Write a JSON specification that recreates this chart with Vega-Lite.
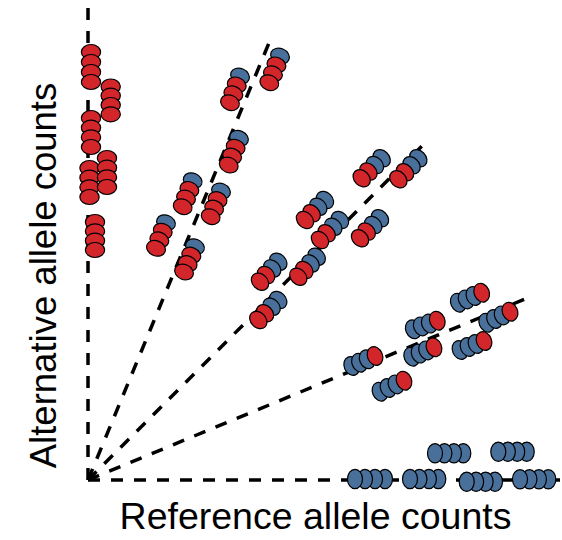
{
  "$schema": "https://vega.github.io/schema/vega-lite/v6.json",
  "width": 472,
  "height": 472,
  "autosize": {"type": "none"},
  "padding": {"left": 88, "top": 8, "right": 2, "bottom": 60},
  "background": "white",
  "config": {"view": {"stroke": null}, "font": "Liberation Sans"},
  "datasets": {
    "lines": [
      {"dosage": 4, "x0": 0, "y0": 0, "x1": 0, "y1": 47.2},
      {"dosage": 3, "x0": 0, "y0": 0, "x1": 18.06, "y1": 43.61},
      {"dosage": 2, "x0": 0, "y0": 0, "x1": 33.38, "y1": 33.38},
      {"dosage": 1, "x0": 0, "y0": 0, "x1": 43.61, "y1": 18.06},
      {"dosage": 0, "x0": 0, "y0": 0, "x1": 47.2, "y1": 0}
    ],
    "alleles": [
      {"ind": "A", "dosage": 4, "allele": "alt", "ref_count": 0.3, "alt_count": 42.8},
      {"ind": "A", "dosage": 4, "allele": "alt", "ref_count": 0.3, "alt_count": 41.8},
      {"ind": "A", "dosage": 4, "allele": "alt", "ref_count": 0.3, "alt_count": 40.8},
      {"ind": "A", "dosage": 4, "allele": "alt", "ref_count": 0.3, "alt_count": 39.8},
      {"ind": "B", "dosage": 4, "allele": "alt", "ref_count": 2.27, "alt_count": 39.35},
      {"ind": "B", "dosage": 4, "allele": "alt", "ref_count": 2.27, "alt_count": 38.43},
      {"ind": "B", "dosage": 4, "allele": "alt", "ref_count": 2.27, "alt_count": 37.5},
      {"ind": "B", "dosage": 4, "allele": "alt", "ref_count": 2.27, "alt_count": 36.57},
      {"ind": "C", "dosage": 4, "allele": "alt", "ref_count": 0.3, "alt_count": 36.2},
      {"ind": "C", "dosage": 4, "allele": "alt", "ref_count": 0.3, "alt_count": 35.23},
      {"ind": "C", "dosage": 4, "allele": "alt", "ref_count": 0.3, "alt_count": 34.27},
      {"ind": "C", "dosage": 4, "allele": "alt", "ref_count": 0.3, "alt_count": 33.3},
      {"ind": "E", "dosage": 4, "allele": "alt", "ref_count": 0.15, "alt_count": 31.2},
      {"ind": "E", "dosage": 4, "allele": "alt", "ref_count": 0.15, "alt_count": 30.23},
      {"ind": "E", "dosage": 4, "allele": "alt", "ref_count": 0.15, "alt_count": 29.27},
      {"ind": "E", "dosage": 4, "allele": "alt", "ref_count": 0.15, "alt_count": 28.3},
      {"ind": "D", "dosage": 4, "allele": "alt", "ref_count": 1.9, "alt_count": 32.2},
      {"ind": "D", "dosage": 4, "allele": "alt", "ref_count": 1.9, "alt_count": 31.23},
      {"ind": "D", "dosage": 4, "allele": "alt", "ref_count": 1.9, "alt_count": 30.27},
      {"ind": "D", "dosage": 4, "allele": "alt", "ref_count": 1.9, "alt_count": 29.3},
      {"ind": "F", "dosage": 4, "allele": "alt", "ref_count": 0.7, "alt_count": 25.8},
      {"ind": "F", "dosage": 4, "allele": "alt", "ref_count": 0.7, "alt_count": 24.87},
      {"ind": "F", "dosage": 4, "allele": "alt", "ref_count": 0.7, "alt_count": 23.93},
      {"ind": "F", "dosage": 4, "allele": "alt", "ref_count": 0.7, "alt_count": 23.0},

      {"ind": "G", "dosage": 3, "allele": "ref", "ref_count": 19.2, "alt_count": 42.4},
      {"ind": "G", "dosage": 3, "allele": "alt", "ref_count": 18.84, "alt_count": 41.51},
      {"ind": "G", "dosage": 3, "allele": "alt", "ref_count": 18.49, "alt_count": 40.62},
      {"ind": "G", "dosage": 3, "allele": "alt", "ref_count": 18.13, "alt_count": 39.73},
      {"ind": "H", "dosage": 3, "allele": "ref", "ref_count": 15.2, "alt_count": 40.4},
      {"ind": "H", "dosage": 3, "allele": "alt", "ref_count": 14.87, "alt_count": 39.51},
      {"ind": "H", "dosage": 3, "allele": "alt", "ref_count": 14.53, "alt_count": 38.62},
      {"ind": "H", "dosage": 3, "allele": "alt", "ref_count": 14.2, "alt_count": 37.73},
      {"ind": "I", "dosage": 3, "allele": "ref", "ref_count": 15.1, "alt_count": 34.17},
      {"ind": "I", "dosage": 3, "allele": "alt", "ref_count": 14.76, "alt_count": 33.28},
      {"ind": "I", "dosage": 3, "allele": "alt", "ref_count": 14.41, "alt_count": 32.39},
      {"ind": "I", "dosage": 3, "allele": "alt", "ref_count": 14.07, "alt_count": 31.5},
      {"ind": "J", "dosage": 3, "allele": "ref", "ref_count": 10.47, "alt_count": 29.93},
      {"ind": "J", "dosage": 3, "allele": "alt", "ref_count": 10.14, "alt_count": 29.06},
      {"ind": "J", "dosage": 3, "allele": "alt", "ref_count": 9.8, "alt_count": 28.2},
      {"ind": "J", "dosage": 3, "allele": "alt", "ref_count": 9.47, "alt_count": 27.33},
      {"ind": "K", "dosage": 3, "allele": "ref", "ref_count": 13.3, "alt_count": 28.9},
      {"ind": "K", "dosage": 3, "allele": "alt", "ref_count": 12.96, "alt_count": 28.04},
      {"ind": "K", "dosage": 3, "allele": "alt", "ref_count": 12.61, "alt_count": 27.19},
      {"ind": "K", "dosage": 3, "allele": "alt", "ref_count": 12.27, "alt_count": 26.33},
      {"ind": "L", "dosage": 3, "allele": "ref", "ref_count": 7.8, "alt_count": 25.73},
      {"ind": "L", "dosage": 3, "allele": "alt", "ref_count": 7.47, "alt_count": 24.88},
      {"ind": "L", "dosage": 3, "allele": "alt", "ref_count": 7.13, "alt_count": 24.02},
      {"ind": "L", "dosage": 3, "allele": "alt", "ref_count": 6.8, "alt_count": 23.17},
      {"ind": "M", "dosage": 3, "allele": "ref", "ref_count": 10.7, "alt_count": 23.33},
      {"ind": "M", "dosage": 3, "allele": "alt", "ref_count": 10.33, "alt_count": 22.49},
      {"ind": "M", "dosage": 3, "allele": "alt", "ref_count": 9.97, "alt_count": 21.64},
      {"ind": "M", "dosage": 3, "allele": "alt", "ref_count": 9.6, "alt_count": 20.8},

      {"ind": "N", "dosage": 2, "allele": "ref", "ref_count": 29.37, "alt_count": 32.17},
      {"ind": "N", "dosage": 2, "allele": "ref", "ref_count": 28.7, "alt_count": 31.5},
      {"ind": "N", "dosage": 2, "allele": "alt", "ref_count": 28.04, "alt_count": 30.84},
      {"ind": "N", "dosage": 2, "allele": "alt", "ref_count": 27.37, "alt_count": 30.17},
      {"ind": "O", "dosage": 2, "allele": "ref", "ref_count": 33.03, "alt_count": 32.17},
      {"ind": "O", "dosage": 2, "allele": "ref", "ref_count": 32.36, "alt_count": 31.47},
      {"ind": "O", "dosage": 2, "allele": "alt", "ref_count": 31.7, "alt_count": 30.77},
      {"ind": "O", "dosage": 2, "allele": "alt", "ref_count": 31.03, "alt_count": 30.07},
      {"ind": "P", "dosage": 2, "allele": "ref", "ref_count": 23.7, "alt_count": 28.0},
      {"ind": "P", "dosage": 2, "allele": "ref", "ref_count": 23.03, "alt_count": 27.33},
      {"ind": "P", "dosage": 2, "allele": "alt", "ref_count": 22.37, "alt_count": 26.67},
      {"ind": "P", "dosage": 2, "allele": "alt", "ref_count": 21.7, "alt_count": 26.0},
      {"ind": "Q", "dosage": 2, "allele": "ref", "ref_count": 25.2, "alt_count": 26.0},
      {"ind": "Q", "dosage": 2, "allele": "ref", "ref_count": 24.53, "alt_count": 25.33},
      {"ind": "Q", "dosage": 2, "allele": "alt", "ref_count": 23.87, "alt_count": 24.67},
      {"ind": "Q", "dosage": 2, "allele": "alt", "ref_count": 23.2, "alt_count": 24.0},
      {"ind": "R", "dosage": 2, "allele": "ref", "ref_count": 29.2, "alt_count": 26.17},
      {"ind": "R", "dosage": 2, "allele": "ref", "ref_count": 28.53, "alt_count": 25.5},
      {"ind": "R", "dosage": 2, "allele": "alt", "ref_count": 27.87, "alt_count": 24.84},
      {"ind": "R", "dosage": 2, "allele": "alt", "ref_count": 27.2, "alt_count": 24.17},
      {"ind": "S", "dosage": 2, "allele": "ref", "ref_count": 19.03, "alt_count": 21.83},
      {"ind": "S", "dosage": 2, "allele": "ref", "ref_count": 18.42, "alt_count": 21.16},
      {"ind": "S", "dosage": 2, "allele": "alt", "ref_count": 17.81, "alt_count": 20.5},
      {"ind": "S", "dosage": 2, "allele": "alt", "ref_count": 17.2, "alt_count": 19.83},
      {"ind": "T", "dosage": 2, "allele": "ref", "ref_count": 22.87, "alt_count": 22.33},
      {"ind": "T", "dosage": 2, "allele": "ref", "ref_count": 22.26, "alt_count": 21.66},
      {"ind": "T", "dosage": 2, "allele": "alt", "ref_count": 21.64, "alt_count": 21.0},
      {"ind": "T", "dosage": 2, "allele": "alt", "ref_count": 21.03, "alt_count": 20.33},
      {"ind": "U", "dosage": 2, "allele": "ref", "ref_count": 19.03, "alt_count": 18.0},
      {"ind": "U", "dosage": 2, "allele": "ref", "ref_count": 18.36, "alt_count": 17.33},
      {"ind": "U", "dosage": 2, "allele": "alt", "ref_count": 17.7, "alt_count": 16.67},
      {"ind": "U", "dosage": 2, "allele": "alt", "ref_count": 17.03, "alt_count": 16.0},

      {"ind": "V", "dosage": 1, "allele": "ref", "ref_count": 37.03, "alt_count": 17.73},
      {"ind": "V", "dosage": 1, "allele": "ref", "ref_count": 37.81, "alt_count": 18.06},
      {"ind": "V", "dosage": 1, "allele": "ref", "ref_count": 38.59, "alt_count": 18.4},
      {"ind": "V", "dosage": 1, "allele": "alt", "ref_count": 39.37, "alt_count": 18.73},
      {"ind": "W", "dosage": 1, "allele": "ref", "ref_count": 39.87, "alt_count": 15.73},
      {"ind": "W", "dosage": 1, "allele": "ref", "ref_count": 40.65, "alt_count": 16.1},
      {"ind": "W", "dosage": 1, "allele": "ref", "ref_count": 41.42, "alt_count": 16.46},
      {"ind": "W", "dosage": 1, "allele": "alt", "ref_count": 42.2, "alt_count": 16.83},
      {"ind": "X", "dosage": 1, "allele": "ref", "ref_count": 32.53, "alt_count": 15.07},
      {"ind": "X", "dosage": 1, "allele": "ref", "ref_count": 33.33, "alt_count": 15.36},
      {"ind": "X", "dosage": 1, "allele": "ref", "ref_count": 34.13, "alt_count": 15.64},
      {"ind": "X", "dosage": 1, "allele": "alt", "ref_count": 34.93, "alt_count": 15.93},
      {"ind": "Y", "dosage": 1, "allele": "ref", "ref_count": 32.37, "alt_count": 12.33},
      {"ind": "Y", "dosage": 1, "allele": "ref", "ref_count": 33.11, "alt_count": 12.64},
      {"ind": "Y", "dosage": 1, "allele": "ref", "ref_count": 33.86, "alt_count": 12.96},
      {"ind": "Y", "dosage": 1, "allele": "alt", "ref_count": 34.6, "alt_count": 13.27},
      {"ind": "Z", "dosage": 1, "allele": "ref", "ref_count": 37.2, "alt_count": 13.0},
      {"ind": "Z", "dosage": 1, "allele": "ref", "ref_count": 38.0, "alt_count": 13.3},
      {"ind": "Z", "dosage": 1, "allele": "ref", "ref_count": 38.8, "alt_count": 13.6},
      {"ind": "Z", "dosage": 1, "allele": "alt", "ref_count": 39.6, "alt_count": 13.9},
      {"ind": "AA", "dosage": 1, "allele": "ref", "ref_count": 26.37, "alt_count": 11.4},
      {"ind": "AA", "dosage": 1, "allele": "ref", "ref_count": 27.15, "alt_count": 11.73},
      {"ind": "AA", "dosage": 1, "allele": "ref", "ref_count": 27.92, "alt_count": 12.07},
      {"ind": "AA", "dosage": 1, "allele": "alt", "ref_count": 28.7, "alt_count": 12.4},
      {"ind": "AB", "dosage": 1, "allele": "ref", "ref_count": 29.2, "alt_count": 8.83},
      {"ind": "AB", "dosage": 1, "allele": "ref", "ref_count": 30.0, "alt_count": 9.2},
      {"ind": "AB", "dosage": 1, "allele": "ref", "ref_count": 30.8, "alt_count": 9.56},
      {"ind": "AB", "dosage": 1, "allele": "alt", "ref_count": 31.6, "alt_count": 9.93},

      {"ind": "AC", "dosage": 0, "allele": "ref", "ref_count": 29.7, "alt_count": 0.1},
      {"ind": "AC", "dosage": 0, "allele": "ref", "ref_count": 28.7, "alt_count": 0.1},
      {"ind": "AC", "dosage": 0, "allele": "ref", "ref_count": 27.7, "alt_count": 0.1},
      {"ind": "AC", "dosage": 0, "allele": "ref", "ref_count": 26.7, "alt_count": 0.1},
      {"ind": "AD", "dosage": 0, "allele": "ref", "ref_count": 35.03, "alt_count": 0.1},
      {"ind": "AD", "dosage": 0, "allele": "ref", "ref_count": 34.09, "alt_count": 0.1},
      {"ind": "AD", "dosage": 0, "allele": "ref", "ref_count": 33.14, "alt_count": 0.1},
      {"ind": "AD", "dosage": 0, "allele": "ref", "ref_count": 32.2, "alt_count": 0.1},
      {"ind": "AE", "dosage": 0, "allele": "ref", "ref_count": 37.53, "alt_count": 2.67},
      {"ind": "AE", "dosage": 0, "allele": "ref", "ref_count": 36.59, "alt_count": 2.67},
      {"ind": "AE", "dosage": 0, "allele": "ref", "ref_count": 35.64, "alt_count": 2.67},
      {"ind": "AE", "dosage": 0, "allele": "ref", "ref_count": 34.7, "alt_count": 2.67},
      {"ind": "AF", "dosage": 0, "allele": "ref", "ref_count": 40.7, "alt_count": -0.17},
      {"ind": "AF", "dosage": 0, "allele": "ref", "ref_count": 39.76, "alt_count": -0.17},
      {"ind": "AF", "dosage": 0, "allele": "ref", "ref_count": 38.81, "alt_count": -0.17},
      {"ind": "AF", "dosage": 0, "allele": "ref", "ref_count": 37.87, "alt_count": -0.17},
      {"ind": "AG", "dosage": 0, "allele": "ref", "ref_count": 43.87, "alt_count": 2.83},
      {"ind": "AG", "dosage": 0, "allele": "ref", "ref_count": 42.92, "alt_count": 2.83},
      {"ind": "AG", "dosage": 0, "allele": "ref", "ref_count": 41.98, "alt_count": 2.83},
      {"ind": "AG", "dosage": 0, "allele": "ref", "ref_count": 41.03, "alt_count": 2.83},
      {"ind": "AH", "dosage": 0, "allele": "ref", "ref_count": 46.03, "alt_count": 0.07},
      {"ind": "AH", "dosage": 0, "allele": "ref", "ref_count": 45.09, "alt_count": 0.07},
      {"ind": "AH", "dosage": 0, "allele": "ref", "ref_count": 44.14, "alt_count": 0.07},
      {"ind": "AH", "dosage": 0, "allele": "ref", "ref_count": 43.2, "alt_count": 0.07}
    ]
  },
  "layer": [
    {
      "data": {"name": "lines"},
      "mark": {"type": "rule", "color": "black", "strokeWidth": 3.5, "strokeDash": [12, 11]},
      "encoding": {
        "x": {
          "field": "x0", "type": "quantitative",
          "scale": {"domain": [0, 47.2], "nice": false, "zero": false},
          "axis": {"title": "Reference allele counts", "domain": false, "ticks": false, "labels": false, "grid": false,
                   "titleFont": "Liberation Sans", "titleFontSize": 37.5, "titleFontWeight": "normal", "titleColor": "black",
                   "titleX": 227, "titleY": 48, "titleAlign": "center", "titleBaseline": "alphabetic"}
        },
        "y": {
          "field": "y0", "type": "quantitative",
          "scale": {"domain": [0, 47.2], "nice": false, "zero": false},
          "axis": {"title": "Alternative allele counts", "domain": false, "ticks": false, "labels": false, "grid": false,
                   "titleFont": "Liberation Sans", "titleFontSize": 36.5, "titleFontWeight": "normal", "titleColor": "black",
                   "titleX": -33, "titleY": 267, "titleAlign": "center", "titleBaseline": "alphabetic", "titleAngle": -90}
        },
        "x2": {"field": "x1"},
        "y2": {"field": "y1"}
      }
    },
    {
      "data": {"name": "alleles"},
      "mark": {"type": "point", "filled": true, "opacity": 1, "stroke": "black", "strokeWidth": 1.2, "size": 372,
               "shape": "M-1,0A1,0.78 0 1,0 1,0A1,0.78 0 1,0 -1,0Z"},
      "encoding": {
        "x": {"field": "ref_count", "type": "quantitative"},
        "y": {"field": "alt_count", "type": "quantitative"},
        "color": {"field": "allele", "type": "nominal",
                  "scale": {"domain": ["alt", "ref"], "range": ["#d2262b", "#48709a"]}, "legend": null},
        "angle": {"field": "dosage", "type": "quantitative",
                  "scale": {"domain": [0, 4], "range": [90, 0]}, "legend": null}
      }
    }
  ]
}
